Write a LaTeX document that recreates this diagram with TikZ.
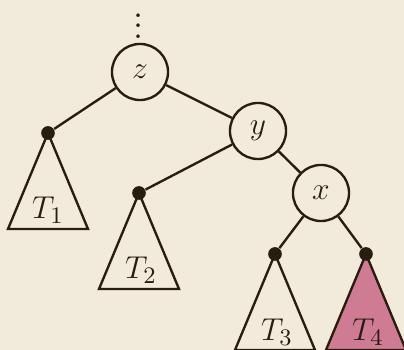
\documentclass[tikz,border=0pt]{standalone}
\usetikzlibrary{backgrounds}
\definecolor{paper}{RGB}{242,235,220}
\definecolor{ink}{RGB}{40,30,15}
\definecolor{rose}{RGB}{208,123,148}
\tikzset{
    key/.style={
        circle,
        draw=ink,
        line width=0.9pt,
        fill=paper,
        minimum size=21.3pt,
        inner sep=0pt,
        text=ink,
        font=\fontsize{13}{15}\selectfont
    },
    leaf/.style={
        circle,
        fill=ink,
        minimum size=5.2pt,
        inner sep=0pt
    },
    link/.style={
        draw=ink,
        line width=0.9pt
    },
    subtree/.style={
        draw=ink,
        line width=0.9pt,
        line join=miter
    },
    tag/.style={
        text=ink,
        inner sep=0pt,
        font=\fontsize{13}{15}\selectfont
    }
}

\begin{document}
\begin{tikzpicture}[x=0.38pt, y=-0.38pt]
    \useasboundingbox (0,0) rectangle (404,350);
    \clip (0,0) rectangle (404,350);

    % Keys on the path
    \node[tag, font=\fontsize{14}{16}\selectfont] (up) at (139,18) {$\vdots$};
    \node[key] (z) at (140,72) {$z$};
    \node[key] (y) at (258,131) {$y$};
    \node[key] (x) at (321,193) {$x$};

    % Roots of the subtrees
    \node[leaf] (l1) at (48,133) {};
    \node[leaf] (l2) at (139,193) {};
    \node[leaf] (l3) at (275,254) {};
    \node[leaf] (l4) at (366,254) {};

    \begin{scope}[on background layer]
        \fill[paper] (0,0) rectangle (404,350);

        % Edges
        \draw[link] (z) -- (l1);
        \draw[link] (z) -- (y);
        \draw[link] (y) -- (l2);
        \draw[link] (y) -- (x);
        \draw[link] (x) -- (l3);
        \draw[link] (x) -- (l4);

        % Subtrees
        \draw[subtree] (l1.center) -- ++(-40,96) -- ++(80,0) -- cycle;
        \draw[subtree] (l2.center) -- ++(-40,96) -- ++(80,0) -- cycle;
        \draw[subtree] (l3.center) -- ++(-40,96) -- ++(80,0) -- cycle;
        \draw[subtree, fill=rose] (l4.center) -- ++(-40,96) -- ++(80,0) -- cycle;
    \end{scope}

    \node[tag] (t1) at (48,210) {$T_1$};
    \node[tag] (t2) at (141,270) {$T_2$};
    \node[tag] (t3) at (277,332) {$T_3$};
    \node[tag] (t4) at (368,332) {$T_4$};
\end{tikzpicture}
\end{document}
